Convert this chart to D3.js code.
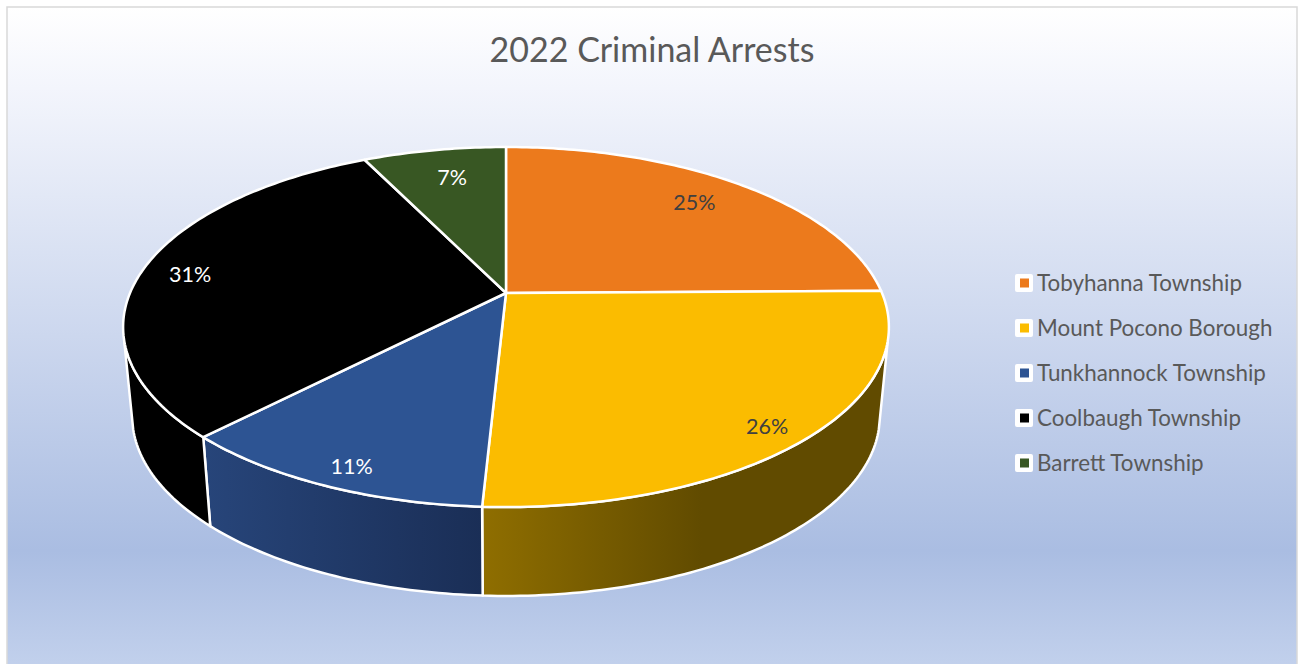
<!DOCTYPE html>
<html>
<head>
<meta charset="utf-8">
<script src="https://cdn.jsdelivr.net/npm/d3@7"></script>
<style>
  html, body { margin: 0; padding: 0; background: #fff; overflow: hidden; }
  text { font-family: Lato, "Open Sans", sans-serif; fill: #595959; }
</style>
</head>
<body>
<div id="chart"></div>
<script>
const title = "2022 Criminal Arrests";
const categories = ["Tobyhanna Township", "Mount Pocono Borough", "Tunkhannock Township", "Coolbaugh Township", "Barrett Township"];
const shares = [24.8, 26.02, 11.43, 30.5, 7.25];
const percentLabels = ["25%", "26%", "11%", "31%", "7%"];
const colors = ["#EC7A1C", "#FBBC00", "#2D5493", "#000000", "#385723"];
const wallLight = ["#000", "#8F6E00", "#27457A", "#000", "#000"];
const wallDark = ["#000", "#614B00", "#1A2E56", "#000", "#000"];
const labelColors = ["#404040", "#404040", "#ffffff", "#ffffff", "#ffffff"];
const labelNudge = [[15, -9], [53, 34], [-31, 43], [-54, 1], [0, -8]];

const width = 1305, height = 664;

// perspective of the tilted disc, top face and bottom face
const apex = { x: 506, y: 293 };
const topFace = { a: 376, b: 173.6, p: 0.189, y: 293 };
const lowFace = { a: 367, b: 173.3, p: 0.19, y: 382 };
const sideFrom = 105 * Math.PI / 180, sideTo = 255 * Math.PI / 180;

function project(face, angle, r = 1) {
    const u = r * Math.sin(angle), v = -r * Math.cos(angle);
    const w = 1 - face.p * v;
    return [apex.x + face.a * u / w, face.y + face.b * v / w];
}

function arcPoints(face, a0, a1) {
    const n = Math.max(2, Math.ceil(Math.abs(a1 - a0) * 60));
    return d3.range(n + 1).map(i => project(face, a0 + (a1 - a0) * i / n));
}

const svg = d3.select("#chart").append("svg")
    .attr("width", width)
    .attr("height", height)
    .style("display", "block");

const defs = svg.append("defs");
const bg = defs.append("linearGradient")
    .attr("id", "bg").attr("x1", 0).attr("y1", 0).attr("x2", 0).attr("y2", 1);
[[0, "#ffffff"], [0.12, "#f3f5fc"], [0.8, "#aabde2"], [1, "#c6d4ee"]].forEach(s => {
    bg.append("stop").attr("offset", s[0]).attr("stop-color", s[1]);
});

svg.append("rect")
    .attr("x", 7).attr("y", 7)
    .attr("width", 1290).attr("height", 680)
    .attr("fill", "url(#bg)")
    .attr("stroke", "#d9d9d9")
    .attr("stroke-width", 1.5);

svg.append("text")
    .attr("x", 652).attr("y", 62)
    .attr("text-anchor", "middle")
    .style("font-size", "34px")
    .text(title);

const pie = d3.pie().sort(null).value(d => d);
const slices = pie(shares);
const line = d3.line();

// side walls first, the top faces paint over the hidden part
slices.forEach((d, i) => {
    const a0 = Math.max(d.startAngle, sideFrom), a1 = Math.min(d.endAngle, sideTo);
    if (a1 <= a0) return;
    const outer = arcPoints(topFace, a0, a1);
    const inner = arcPoints(lowFace, a1, a0);
    const xs = outer.concat(inner).map(p => p[0]);
    const grad = defs.append("linearGradient")
        .attr("id", "wall" + i)
        .attr("gradientUnits", "userSpaceOnUse")
        .attr("x1", d3.min(xs)).attr("x2", i === 1 ? d3.min(xs) + 220 : d3.max(xs))
        .attr("y1", 0).attr("y2", 0);
    grad.append("stop").attr("offset", 0).attr("stop-color", wallLight[i]);
    grad.append("stop").attr("offset", 1).attr("stop-color", wallDark[i]);
    svg.append("path")
        .attr("d", line(outer.concat(inner)) + "Z")
        .attr("fill", `url(#wall${i})`)
        .attr("stroke", "#fff")
        .attr("stroke-width", 2.5)
        .attr("stroke-linejoin", "round");
});

svg.selectAll("path.face")
    .data(slices)
    .enter()
    .append("path")
    .attr("class", "face")
    .attr("d", d => line([[apex.x, apex.y]].concat(arcPoints(topFace, d.startAngle, d.endAngle))) + "Z")
    .attr("fill", (d, i) => colors[i])
    .attr("stroke", "#fff")
    .attr("stroke-width", 2.5)
    .attr("stroke-linejoin", "round");

svg.selectAll("text.pct")
    .data(slices)
    .enter()
    .append("text")
    .attr("class", "pct")
    .attr("transform", (d, i) => {
        const pos = project(topFace, (d.startAngle + d.endAngle) / 2, 0.72);
        return `translate(${pos[0] + labelNudge[i][0]},${pos[1] + labelNudge[i][1]})`;
    })
    .attr("text-anchor", "middle")
    .attr("dy", ".35em")
    .style("font-size", "21.5px")
    .style("fill", (d, i) => labelColors[i])
    .text((d, i) => percentLabels[i]);

// legend
const legendY = d3.scalePoint().domain(categories).range([283, 463]);
const legend = svg.selectAll("g.legend")
    .data(categories)
    .enter()
    .append("g")
    .attr("class", "legend")
    .attr("transform", d => `translate(1015,${legendY(d)})`);

legend.append("rect")
    .attr("x", 0).attr("y", -9)
    .attr("width", 18).attr("height", 18).attr("rx", 2)
    .attr("fill", "#fff");

legend.append("rect")
    .attr("x", 5).attr("y", -4.5)
    .attr("width", 9).attr("height", 9)
    .attr("fill", (d, i) => colors[i]);

legend.append("text")
    .attr("x", 22).attr("dy", ".35em")
    .style("font-size", "22.4px")
    .text(d => d);
</script>
</body>
</html>
